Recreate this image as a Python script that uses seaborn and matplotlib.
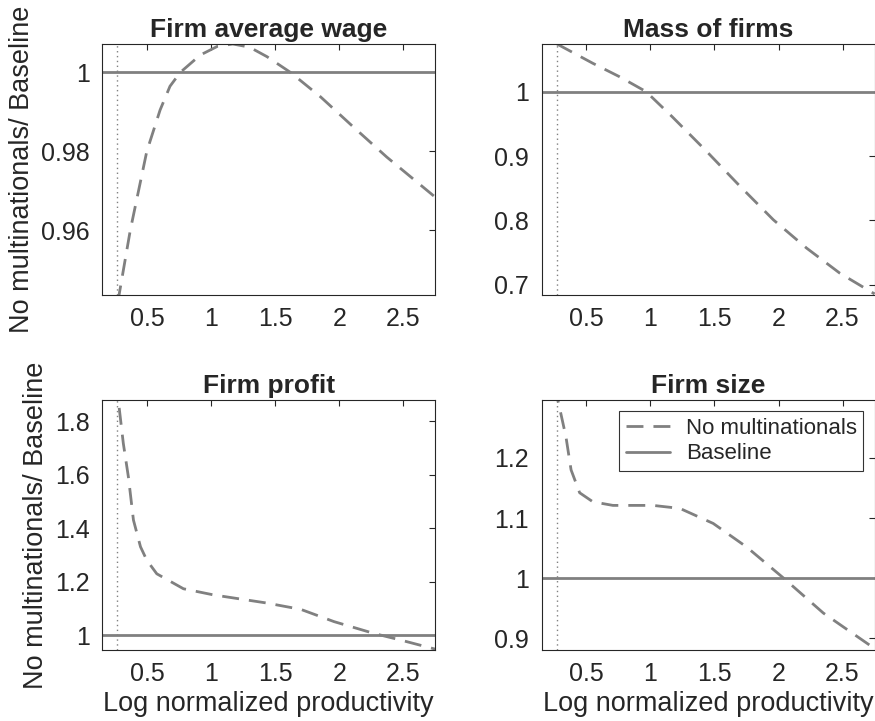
import numpy as np
import pandas as pd
import seaborn as sns
import matplotlib.pyplot as plt
from matplotlib.ticker import FuncFormatter

sns.set_style("white")
plt.rcParams['font.family'] = ['Liberation Sans', 'DejaVu Sans']

# cutoff productivity (dotted vertical line)
cutoff = 0.27

# Firm average wage
wage_x = [0.27, 0.283, 0.37, 0.499, 0.603, 0.68, 0.76, 0.916, 1.05, 1.17, 1.30, 1.436, 1.62, 1.855, 2.11, 2.37, 2.75]
wage_y = [0.935, 0.9437, 0.960, 0.980, 0.9905, 0.9965, 1.000, 1.0044, 1.0066, 1.0072, 1.0064, 1.004, 1.000, 0.9938, 0.9862, 0.9786, 0.9684]

# Mass of firms
mass_x = [0.27, 0.55, 0.76, 0.966, 1.17, 1.43, 1.70, 1.96, 2.22, 2.48, 2.75]
mass_y = [1.074, 1.044, 1.023, 1.000, 0.961, 0.909, 0.853, 0.801, 0.757, 0.718, 0.686]

# Firm profit
profit_x = [0.27, 0.277, 0.316, 0.356, 0.395, 0.45, 0.499, 0.577, 0.785, 1.02, 1.43, 1.70, 1.96, 2.27, 2.48, 2.75]
profit_y = [1.95, 1.878, 1.717, 1.59, 1.43, 1.33, 1.28, 1.229, 1.173, 1.15, 1.12, 1.096, 1.05, 1.006, 0.981, 0.947]

# Firm size
size_x = [0.27, 0.277, 0.34, 0.38, 0.447, 0.55, 0.707, 1.02, 1.23, 1.49, 1.75, 2.04, 2.35, 2.75]
size_y = [1.32, 1.296, 1.235, 1.18, 1.142, 1.127, 1.121, 1.121, 1.116, 1.091, 1.052, 1.000, 0.942, 0.883]

panels = [
    ("Firm average wage", wage_x, wage_y, (0.9437, 1.0072), [0.96, 0.98, 1.0]),
    ("Mass of firms", mass_x, mass_y, (0.6845, 1.074), [0.7, 0.8, 0.9, 1.0]),
    ("Firm profit", profit_x, profit_y, (0.944, 1.8785), [1.0, 1.2, 1.4, 1.6, 1.8]),
    ("Firm size", size_x, size_y, (0.8806, 1.296), [0.9, 1.0, 1.1, 1.2]),
]

positions = [
    [0.1166, 0.591, 0.381, 0.348],
    [0.619, 0.591, 0.3805, 0.348],
    [0.1166, 0.0985, 0.381, 0.3465],
    [0.619, 0.0985, 0.3805, 0.3465],
]

gray = "#808080"
fmt = FuncFormatter(lambda v, p: "%g" % v)

fig = plt.figure(figsize=(8.75, 7.21), dpi=100)
for i, (title, xs, ys, ylim, yticks) in enumerate(panels):
    ax = fig.add_axes(positions[i])
    df = pd.DataFrame({"x": xs, "y": ys})
    sns.lineplot(data=df, x="x", y="y", ax=ax, sort=False, estimator=None,
                 color=gray, linewidth=2, dashes=False, label="No multinationals")
    ax.lines[-1].set_linestyle((0, (6.1, 3.6)))
    ax.axhline(1.0, color=gray, linewidth=2, label="Baseline")
    ax.axvline(cutoff, color=gray, linewidth=1, linestyle=(0, (1, 2.5)))
    ax.set_xlim(0.15, 2.75)
    ax.set_ylim(*ylim)
    ax.set_xticks([0.5, 1, 1.5, 2, 2.5])
    ax.set_yticks(yticks)
    ax.xaxis.set_major_formatter(fmt)
    ax.yaxis.set_major_formatter(fmt)
    ax.tick_params(direction="in", length=4, width=0.8, colors="#262626",
                   labelsize=18, top=True, right=True, pad=9)
    for s in ax.spines.values():
        s.set_color("#262626")
        s.set_linewidth(0.8)
    ax.set_title(title, fontsize=19, fontweight="bold", pad=5)
    ax.set_xlabel("Log normalized productivity" if i >= 2 else "", fontsize=19.5, color="#262626", labelpad=3)
    ax.set_ylabel("No multinationals/ Baseline" if i % 2 == 0 else "", fontsize=19.5, color="#262626", labelpad=4)
    if i == 3:
        leg = ax.legend(loc="upper right", fontsize=16, frameon=True, fancybox=False,
                        edgecolor="black", handlelength=2.0, borderpad=0.3,
                        labelspacing=0.2, handletextpad=0.7, borderaxespad=0.5)
        leg.get_frame().set_linewidth(0.8)
    else:
        ax.get_legend().remove()

fig.savefig("out.png", dpi=100)
